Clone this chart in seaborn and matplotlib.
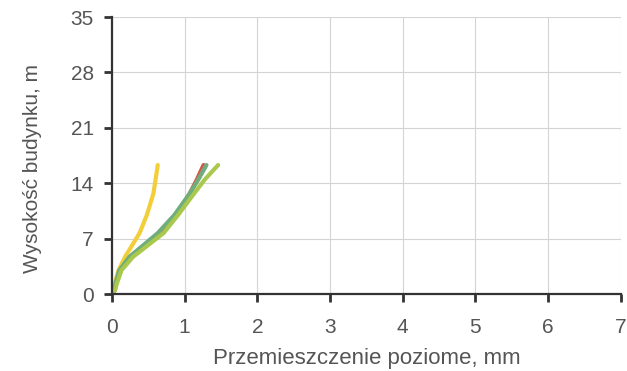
import matplotlib
matplotlib.use('Agg')
import matplotlib.pyplot as plt
import seaborn as sns
import pandas as pd

# wysokość budynku, m
heights = [0.0, 0.5, 1.4, 3.0, 4.7, 7.7, 10.0, 12.7, 14.5, 16.3]

# przemieszczenie poziome, mm
disp_yellow = [0.0, 0.02, 0.04, 0.09, 0.18, 0.38, 0.48, 0.57, 0.60, 0.63]
disp_red = [0.0, 0.04, 0.06, 0.12, 0.27, 0.68, 0.88, 1.07, 1.17, 1.26]
disp_green = [0.0, 0.03, 0.05, 0.10, 0.24, 0.63, 0.86, 1.07, 1.19, 1.30]
disp_lime = [0.0, 0.04, 0.07, 0.13, 0.29, 0.71, 0.91, 1.13, 1.28, 1.46]

series = {
    'A': disp_yellow,
    'B': disp_red,
    'C': disp_green,
    'D': disp_lime,
}
colors = {'A': '#F2CF3A', 'B': '#D8544A', 'C': '#6FAE7C', 'D': '#A9C84C'}

rows = []
for name, xs in series.items():
    for x, h in zip(xs, heights):
        rows.append({'seria': name, 'x': x, 'h': h})
df = pd.DataFrame(rows)

sns.set_style('white')
plt.rcParams['font.family'] = ['Liberation Sans', 'DejaVu Sans']

fig = plt.figure(figsize=(6.27, 3.71), dpi=100)
ax = fig.add_axes([0.1786, 0.2075, 0.8114, 0.7465])

sns.lineplot(data=df, x='x', y='h', hue='seria', palette=colors, sort=False,
             estimator=None, linewidth=3.0, legend=False, ax=ax)

ax.set_xlim(0, 7)
ax.set_ylim(0, 35)
ax.set_xticks(range(0, 8))
ax.set_yticks(range(0, 36, 7))
ax.grid(True, color='#d4d4d4', linewidth=0.8)
ax.set_axisbelow(True)

for s in ['top', 'right']:
    ax.spines[s].set_visible(False)
for s in ['left', 'bottom']:
    ax.spines[s].set_color('#333333')
    ax.spines[s].set_linewidth(1.6)

ax.tick_params(axis='both', bottom=True, left=True, direction='out', length=6,
               width=2, color='#333333', labelsize=15, labelcolor='#555555', pad=7)
ax.tick_params(axis='x', pad=11)
ax.set_xlabel('Przemieszczenie poziome, mm', fontsize=16, color='#555555', labelpad=8)
ax.set_ylabel('Wysokość budynku, m', fontsize=15, color='#555555')
ax.yaxis.set_label_coords(-0.138, 0.455)

fig.savefig('out.png', dpi=100)
